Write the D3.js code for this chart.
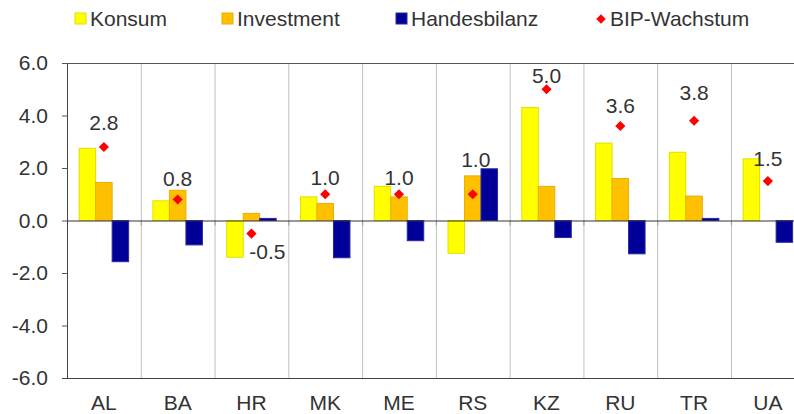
<!DOCTYPE html>
<html>
<head>
<meta charset="utf-8">
<script src="https://cdn.jsdelivr.net/npm/d3@7"></script>
<style>
  body { margin: 0; background: #fff; }
  text { font-family: "Liberation Sans", Arial, sans-serif; fill: #333; }
</style>
</head>
<body>
<svg id="chart" width="794" height="414"></svg>
<script>
// Chart values
const countries = ["AL", "BA", "HR", "MK", "ME", "RS", "KZ", "RU", "TR", "UA"];
const konsum = [2.75, 0.75, -1.4, 0.9, 1.3, -1.25, 4.3, 2.95, 2.6, 2.35];
const investment = [1.45, 1.15, 0.27, 0.65, 0.9, 1.7, 1.3, 1.6, 0.93, 0];
const handelsbilanz = [-1.57, -0.93, 0.08, -1.42, -0.77, 1.97, -0.65, -1.27, 0.08, -0.83];
const bipWachstum = [2.8, 0.8, -0.5, 1.0, 1.0, 1.0, 5.0, 3.6, 3.8, 1.5];
const yTicks = [-6, -4, -2, 0, 2, 4, 6];

// where each growth label sits relative to its marker (px), as placed in the original
const labelDx = [0, 0, 16, 0, 0, 3, 0, 0, 0, 0];
const labelDy = [-24, -21, 18, -17, -17, -35, -14, -20, -28, -22];

const seriesNames = ["Konsum", "Investment", "Handesbilanz"];
const seriesValues = [konsum, investment, handelsbilanz];
const seriesFill = ["#ffff00", "#ffc000", "#000099"];
const seriesStroke = ["#e0e000", "#e8b000", "#2a2aa0"];

// plain hyphen for negatives, like the original
const fmt = d => d.toFixed(1);

const svg = d3.select("#chart");

// plot area (the right edge runs past the window, as in the reference)
const plotLeft = 67, plotTop = 63, plotBottom = 378, plotRight = 804.75;

const x0 = d3.scaleBand().domain(countries).range([plotLeft, plotRight]).padding(0);
const x1 = d3.scaleBand().domain(seriesNames).range([0, x0.bandwidth()])
    .paddingInner(0).paddingOuter(0.735);
const y = d3.scaleLinear().domain([-6, 6]).range([plotBottom, plotTop]);

// vertical separators between categories
svg.append("g").selectAll("line")
    .data(countries.slice(1))
    .join("line")
    .attr("x1", d => x0(d) + 0.5).attr("x2", d => x0(d) + 0.5)
    .attr("y1", plotTop).attr("y2", plotBottom)
    .attr("stroke", "#c0c0c0").attr("stroke-width", 1);

// small category ticks below the zero line
svg.append("g").selectAll("line")
    .data(countries.slice(1))
    .join("line")
    .attr("x1", d => x0(d) + 0.5).attr("x2", d => x0(d) + 0.5)
    .attr("y1", y(0)).attr("y2", y(0) + 5)
    .attr("stroke", "#999").attr("stroke-width", 1);

// bars
const groups = svg.append("g").selectAll("g")
    .data(countries)
    .join("g")
    .attr("transform", d => `translate(${x0(d)},0)`);

groups.selectAll("rect")
    .data((c, i) => seriesNames.map((s, k) => ({ s, k, v: seriesValues[k][i] }))
        .filter(d => d.v !== 0))
    .join("rect")
    .attr("x", d => x1(d.s))
    .attr("width", x1.bandwidth())
    .attr("y", d => y(Math.max(0, d.v)))
    .attr("height", d => Math.abs(y(d.v) - y(0)))
    .attr("fill", d => seriesFill[d.k])
    .attr("stroke", d => seriesStroke[d.k])
    .attr("stroke-width", 1);

// y axis
const yAxis = svg.append("g").attr("transform", `translate(${plotLeft},0)`)
    .call(d3.axisLeft(y).tickValues(yTicks).tickSize(5).tickPadding(14)
        .tickFormat(fmt));
yAxis.select(".domain").remove();
yAxis.selectAll("line").attr("stroke", "#555");
yAxis.selectAll("text").style("font-size", "21px").attr("fill", "#333")
    .style("font-family", "'Liberation Sans', Arial, sans-serif");

// frame lines
svg.append("line").attr("x1", plotLeft + 0.5).attr("x2", plotLeft + 0.5)
    .attr("y1", plotTop).attr("y2", plotBottom).attr("stroke", "#444");
svg.append("line").attr("x1", plotLeft - 5).attr("x2", plotRight)
    .attr("y1", plotTop + 0.5).attr("y2", plotTop + 0.5).attr("stroke", "#555");
svg.append("line").attr("x1", plotLeft - 5).attr("x2", plotRight)
    .attr("y1", plotBottom + 0.5).attr("y2", plotBottom + 0.5).attr("stroke", "#444");
svg.append("line").attr("x1", plotLeft).attr("x2", plotRight)
    .attr("y1", y(0) + 0.5).attr("y2", y(0) + 0.5).attr("stroke", "#333");

// category labels
svg.append("g").selectAll("text")
    .data(countries)
    .join("text")
    .attr("x", d => x0(d) + x0.bandwidth() / 2)
    .attr("y", 410)
    .attr("text-anchor", "middle")
    .style("font-size", "21px")
    .text(d => d);

// growth markers
const diamond = d3.symbol(d3.symbolSquare, 52);
svg.append("g").selectAll("path")
    .data(bipWachstum)
    .join("path")
    .attr("d", diamond)
    .attr("transform", (d, i) =>
        `translate(${x0(countries[i]) + x0.bandwidth() / 2},${y(d)}) rotate(45)`)
    .attr("fill", "#ff0000");

// growth labels
svg.append("g").selectAll("text")
    .data(bipWachstum)
    .join("text")
    .attr("x", (d, i) => x0(countries[i]) + x0.bandwidth() / 2 + labelDx[i])
    .attr("y", (d, i) => y(d) + labelDy[i])
    .attr("dy", "0.35em")
    .attr("text-anchor", "middle")
    .style("font-size", "21px")
    .text(fmt);

// legend
const legendX = [75, 222, 396];
const legend = svg.append("g");
seriesNames.forEach((name, k) => {
    legend.append("rect")
        .attr("x", legendX[k]).attr("y", 13)
        .attr("width", 11).attr("height", 11)
        .attr("fill", seriesFill[k])
        .attr("stroke", seriesStroke[k]);
    legend.append("text")
        .attr("x", legendX[k] + 15).attr("y", 19).attr("dy", "0.35em")
        .style("font-size", "21px")
        .text(name);
});
legend.append("path")
    .attr("d", d3.symbol(d3.symbolSquare, 45))
    .attr("transform", "translate(601,19) rotate(45)")
    .attr("fill", "#ff0000");
legend.append("text")
    .attr("x", 610).attr("y", 19).attr("dy", "0.35em")
    .style("font-size", "21px")
    .text("BIP-Wachstum");
</script>
</body>
</html>
